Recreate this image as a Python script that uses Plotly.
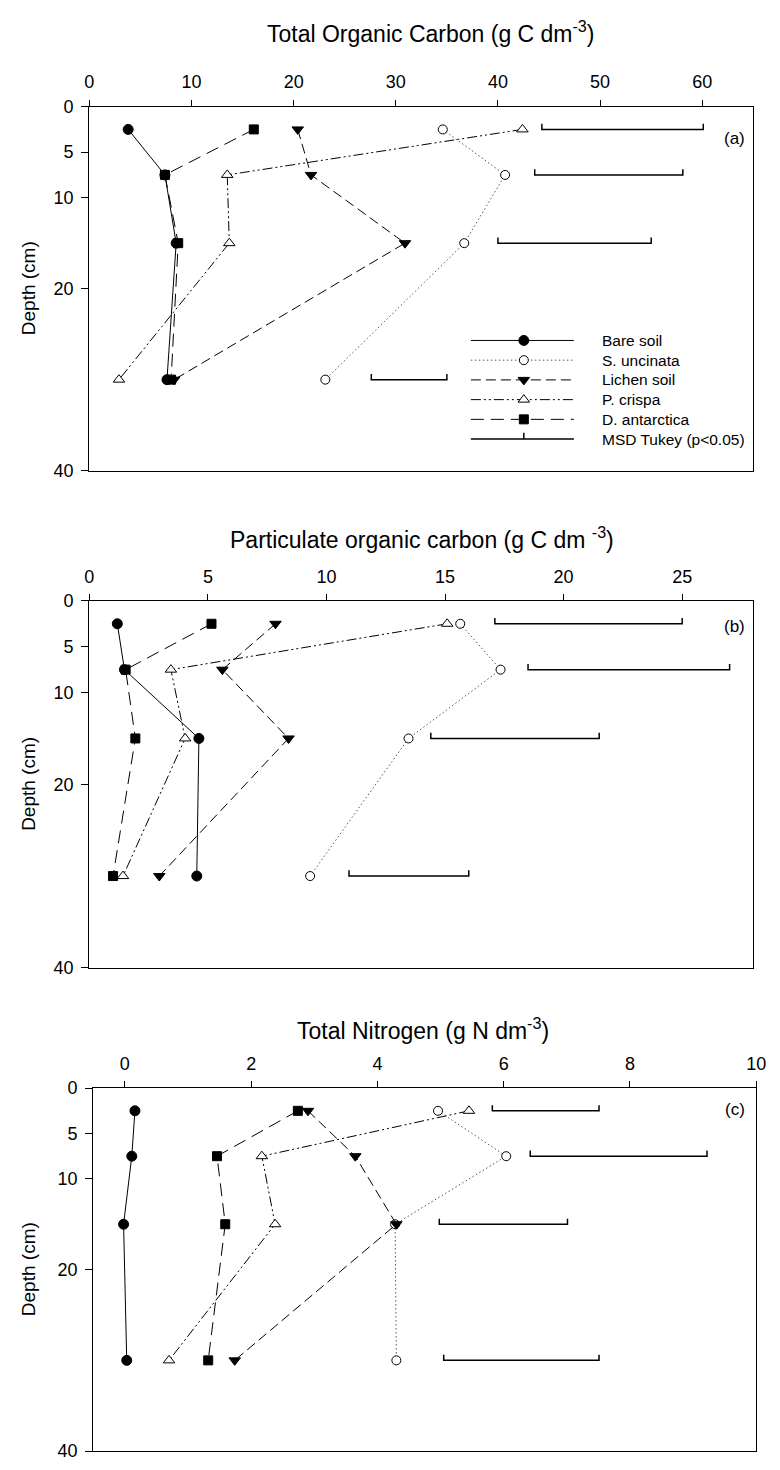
import plotly.graph_objects as go

# ---------------- data ----------------
DEPTHS = [2.5, 7.5, 15, 30]
SERIES = ["Bare soil", "S. uncinata", "Lichen soil", "P. crispa", "D. antarctica"]

# (a) Total organic carbon (g C dm-3)
TOC_BARE = [3.8, 7.4, 8.5, 7.6]
TOC_SUNC = [34.6, 40.7, 36.7, 23.1]
TOC_LICHEN = [20.4, 21.7, 30.9, 8.3]
TOC_PCRISPA = [42.4, 13.5, 13.7, 2.9]
TOC_DANT = [16.1, 7.4, 8.7, 8.0]
TOC_MSD_LO = [44.3, 43.6, 40.0, 27.6]
TOC_MSD_HI = [60.1, 58.1, 55.0, 35.0]

# (b) Particulate organic carbon (g C dm-3)
POC_BARE = [1.18, 1.48, 4.62, 4.53]
POC_SUNC = [15.64, 17.34, 13.46, 9.31]
POC_LICHEN = [7.85, 5.61, 8.40, 2.95]
POC_PCRISPA = [15.09, 3.44, 4.04, 1.42]
POC_DANT = [5.15, 1.53, 1.94, 1.00]
POC_MSD_LO = [17.1, 18.5, 14.4, 10.95]
POC_MSD_HI = [25.0, 27.0, 21.5, 16.0]

# (c) Total nitrogen (g N dm-3)
TN_BARE = [0.16, 0.11, -0.02, 0.03]
TN_SUNC = [4.96, 6.04, 4.28, 4.30]
TN_LICHEN = [2.90, 3.65, 4.30, 1.74]
TN_PCRISPA = [5.45, 2.17, 2.38, 0.70]
TN_DANT = [2.74, 1.46, 1.59, 1.32]
TN_MSD_LO = [5.82, 6.42, 4.98, 5.05]
TN_MSD_HI = [7.51, 9.22, 7.01, 7.51]

Y_TICKS = [0, 5, 10, 20, 40]
X_TICKS_A = [0, 10, 20, 30, 40, 50, 60]
X_TICKS_B = [0, 5, 10, 15, 20, 25]
X_TICKS_C = [0, 2, 4, 6, 8, 10]

TITLE_A = "Total Organic Carbon (g C dm<sup>-3</sup>)"
TITLE_B = "Particulate organic carbon (g C dm <sup>-3</sup>)"
TITLE_C = "Total Nitrogen (g N dm<sup>-3</sup>)"
MSD_LABEL = "MSD Tukey (p<0.05)"

# ---------------- styles ----------------
FONT = "Arial, 'Liberation Sans', sans-serif"
W, H = 780, 1470
STYLE = {
    "Bare soil": dict(dash="solid", lcolor="black", symbol="circle", size=10, fill="black"),
    "S. uncinata": dict(dash="1.5px,2.5px", lcolor="#555555", symbol="circle", size=9, fill="white"),
    "Lichen soil": dict(dash="10px,5px", lcolor="black", symbol="triangle-down", size=10, fill="black"),
    "P. crispa": dict(dash="10px,3px,2px,3px,2px,3px", lcolor="black", symbol="triangle-up", size=10, fill="white"),
    "D. antarctica": dict(dash="13px,7px", lcolor="black", symbol="square", size=9, fill="black"),
}
MSD_TICK = 0.62  # end-tick height in depth units

# panel geometry in pixels (left, right, top, bottom)
PANELS = [
    dict(key="a", px=(86, 763, 98, 467), xr=[0, 65], xt=X_TICKS_A, title=TITLE_A, title_xy=(434, 22),
         label_y=130,
         data=[TOC_BARE, TOC_SUNC, TOC_LICHEN, TOC_PCRISPA, TOC_DANT], lo=TOC_MSD_LO, hi=TOC_MSD_HI),
    dict(key="b", px=(86, 763, 599, 971), xr=[0, 28], xt=X_TICKS_B, title=TITLE_B, title_xy=(425, 535),
         label_y=625,
         data=[POC_BARE, POC_SUNC, POC_LICHEN, POC_PCRISPA, POC_DANT], lo=POC_MSD_LO, hi=POC_MSD_HI),
    dict(key="c", px=(90, 766, 1093, 1461), xr=[-0.5, 10], xt=X_TICKS_C, title=TITLE_C, title_xy=(426, 1033),
         label_y=1115,
         data=[TN_BARE, TN_SUNC, TN_LICHEN, TN_PCRISPA, TN_DANT], lo=TN_MSD_LO, hi=TN_MSD_HI),
]

fig = go.Figure()
annotations = []
layout_axes = {}

def px2paper(x, y):
    return x / W, 1 - y / H

for i, p in enumerate(PANELS):
    n = i + 1
    xa = "x" if n == 1 else f"x{n}"
    ya = "y" if n == 1 else f"y{n}"
    l, r, t, b = p["px"]
    layout_axes["xaxis" if n == 1 else f"xaxis{n}"] = dict(
        domain=[l / W, r / W], range=p["xr"], anchor=ya, side="top",
        tickvals=p["xt"], ticks="outside", ticklen=6, tickwidth=1.3, tickcolor="black",
        showline=True, linecolor="black", linewidth=1.3, mirror=True,
        showgrid=False, zeroline=False, tickfont=dict(size=18, color="black", family=FONT),
        ticklabelstandoff=4,
    )
    layout_axes["yaxis" if n == 1 else f"yaxis{n}"] = dict(
        domain=[1 - b / H, 1 - t / H], range=[40, 0], anchor=xa,
        tickvals=Y_TICKS, ticks="outside", ticklen=7, tickwidth=1.3, tickcolor="black",
        showline=True, linecolor="black", linewidth=1.3, mirror=True,
        showgrid=False, zeroline=False, tickfont=dict(size=18, color="black", family=FONT),
        ticklabelstandoff=4,
    )
    # series
    for name, vals in zip(SERIES, p["data"]):
        s = STYLE[name]
        fig.add_trace(go.Scatter(
            x=vals, y=DEPTHS, xaxis=xa, yaxis=ya, mode="lines+markers", name=name,
            showlegend=False, cliponaxis=False,
            line=dict(color=s["lcolor"], width=1, dash=s["dash"]),
            marker=dict(symbol=s["symbol"], size=s["size"], color=s["fill"],
                        line=dict(color="black", width=1)),
        ))
    # MSD bars
    mx, my = [], []
    for d, lo, hi in zip(DEPTHS, p["lo"], p["hi"]):
        mx += [lo, lo, hi, hi, None]
        my += [d - MSD_TICK, d, d, d - MSD_TICK, None]
    fig.add_trace(go.Scatter(x=mx, y=my, xaxis=xa, yaxis=ya, mode="lines", showlegend=False,
                             line=dict(color="black", width=1.5), hoverinfo="skip"))
    # titles
    tx, ty = px2paper(*p["title_xy"])
    annotations.append(dict(text=p["title"], x=tx, y=ty, xref="paper", yref="paper",
                            xanchor="center", yanchor="middle", showarrow=False,
                            font=dict(size=23, color="black", family=FONT)))
    yx, yy = px2paper(24, (t + b) / 2)
    annotations.append(dict(text="Depth (cm)", x=yx, y=yy, xref="paper", yref="paper",
                            xanchor="center", yanchor="middle", showarrow=False, textangle=-90,
                            font=dict(size=19, color="black", family=FONT)))
    lx, ly = px2paper(757, p["label_y"])
    annotations.append(dict(text=f"({p['key']})", x=lx, y=ly, xref="paper", yref="paper",
                            xanchor="right", yanchor="middle", showarrow=False,
                            font=dict(size=17, color="black", family=FONT)))

# ---------------- legend (drawn on an auxiliary pixel axis) ----------------
LEG_X0, LEG_X1, LEG_XM, LEG_TX = 475, 580, 529, 607
LEG_Y0, LEG_DY = 335, 20
for k, name in enumerate(SERIES):
    s = STYLE[name]
    yrow = LEG_Y0 + k * LEG_DY
    fig.add_trace(go.Scatter(x=[LEG_X0, LEG_X1], y=[yrow, yrow], xaxis="x4", yaxis="y4", mode="lines",
                             showlegend=False, hoverinfo="skip", cliponaxis=False,
                             line=dict(color=s["lcolor"], width=1, dash=s["dash"])))
    fig.add_trace(go.Scatter(x=[LEG_XM], y=[yrow], xaxis="x4", yaxis="y4", mode="markers",
                             showlegend=False, hoverinfo="skip", cliponaxis=False,
                             marker=dict(symbol=s["symbol"], size=s["size"], color=s["fill"],
                                         line=dict(color="black", width=1))))
    annotations.append(dict(text=name, x=LEG_TX / W, y=1 - yrow / H, xref="paper", yref="paper",
                            xanchor="left", yanchor="middle", showarrow=False,
                            font=dict(size=15.5, color="black", family=FONT)))
yrow = LEG_Y0 + len(SERIES) * LEG_DY
fig.add_trace(go.Scatter(x=[LEG_X0, LEG_X1, None, LEG_XM, LEG_XM], y=[yrow, yrow, None, yrow, yrow - 6.5],
                         xaxis="x4", yaxis="y4", mode="lines", showlegend=False, hoverinfo="skip",
                         cliponaxis=False, line=dict(color="black", width=1.5)))
annotations.append(dict(text=MSD_LABEL, x=LEG_TX / W, y=1 - yrow / H, xref="paper", yref="paper",
                        xanchor="left", yanchor="middle", showarrow=False,
                        font=dict(size=15.5, color="black", family=FONT)))

layout_axes["xaxis4"] = dict(domain=[0, 1], range=[0, W], anchor="y4", visible=False, fixedrange=True)
layout_axes["yaxis4"] = dict(domain=[0, 1], range=[H, 0], anchor="x4", visible=False, fixedrange=True)

fig.update_layout(
    width=W, height=H, autosize=False,
    margin=dict(l=0, r=0, t=0, b=0, pad=0),
    paper_bgcolor="white", plot_bgcolor="rgba(0,0,0,0)",
    font=dict(family=FONT, color="black"),
    showlegend=False, annotations=annotations,
    **layout_axes,
)

fig.write_html("out.html", config={"displayModeBar": False},
               post_script="document.body.style.margin='0px';")
